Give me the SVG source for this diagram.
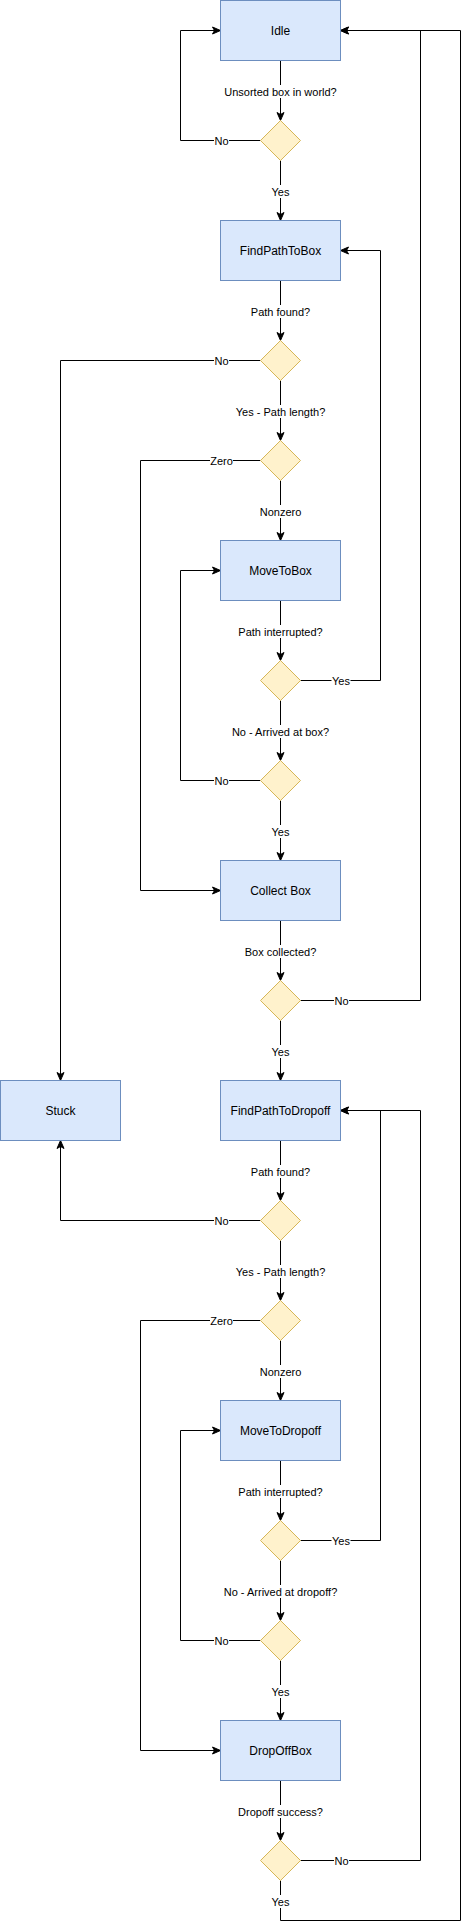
<svg xmlns="http://www.w3.org/2000/svg" width="469" height="1929" viewBox="0 0 469 1929">
<style>
.st{fill:#dae8fc;stroke:#6c8ebf;stroke-width:1}
.dc{fill:#fff2cc;stroke:#d6b656;stroke-width:1}
.nt{font-family:"Liberation Sans",Arial,Helvetica,sans-serif;font-size:12px;fill:#000;text-anchor:middle}
.e{fill:none;stroke:#000;stroke-width:1;marker-end:url(#arr)}
.lb{fill:#fff}
.lt{font-family:"Liberation Sans",Arial,Helvetica,sans-serif;font-size:11px;fill:#000;text-anchor:middle}
</style>
<defs>
<marker id="arr" markerUnits="userSpaceOnUse" markerWidth="9" markerHeight="9" refX="8" refY="4" orient="auto" overflow="visible">
<path d="M0,0.5 L8,4 L0,7.5 L2,4 Z" fill="#000" stroke="#000" stroke-width="1"/>
</marker>
</defs>
<rect width="469" height="1929" fill="#fff"/>
<g transform="translate(0.5,0.5)">
<g id="connectors">
<path class="e" d="M280,60 L280,120"/>
<path class="e" d="M260,140 L180,140 L180,30 L220,30"/>
<path class="e" d="M280,160 L280,220"/>
<path class="e" d="M280,280 L280,340"/>
<path class="e" d="M260,360 L60,360 L60,1080"/>
<path class="e" d="M280,380 L280,440"/>
<path class="e" d="M260,460 L140,460 L140,890 L220,890"/>
<path class="e" d="M280,480 L280,540"/>
<path class="e" d="M280,600 L280,660"/>
<path class="e" d="M300,680 L380,680 L380,250 L340,250"/>
<path class="e" d="M280,700 L280,760"/>
<path class="e" d="M260,780 L180,780 L180,570 L220,570"/>
<path class="e" d="M280,800 L280,860"/>
<path class="e" d="M280,920 L280,980"/>
<path class="e" d="M300,1000 L420,1000 L420,30 L340,30"/>
<path class="e" d="M280,1020 L280,1080"/>
<path class="e" d="M280,1140 L280,1200"/>
<path class="e" d="M260,1220 L60,1220 L60,1140"/>
<path class="e" d="M280,1240 L280,1300"/>
<path class="e" d="M260,1320 L140,1320 L140,1750 L220,1750"/>
<path class="e" d="M280,1340 L280,1400"/>
<path class="e" d="M280,1460 L280,1520"/>
<path class="e" d="M300,1540 L380,1540 L380,1110 L340,1110"/>
<path class="e" d="M280,1560 L280,1620"/>
<path class="e" d="M260,1640 L180,1640 L180,1430 L220,1430"/>
<path class="e" d="M280,1660 L280,1720"/>
<path class="e" d="M280,1780 L280,1840"/>
<path class="e" d="M300,1860 L420,1860 L420,1110 L340,1110"/>
<path class="e" d="M280,1880 L280,1920 L460,1920 L460,30 L340,30"/>
<g id="edge-labels">
<rect class="lb" x="223" y="84.5" width="114" height="13"/><text class="lt" x="280" y="95">Unsorted box in world?</text>
<rect class="lb" x="213.5" y="133.5" width="15" height="13"/><text class="lt" x="221" y="144">No</text>
<rect class="lb" x="270.5" y="184.5" width="19" height="13"/><text class="lt" x="280" y="195">Yes</text>
<rect class="lb" x="250" y="304.5" width="60" height="13"/><text class="lt" x="280" y="315">Path found?</text>
<rect class="lb" x="213.5" y="353.5" width="15" height="13"/><text class="lt" x="221" y="364">No</text>
<rect class="lb" x="234.5" y="404.5" width="91" height="13"/><text class="lt" x="280" y="415">Yes - Path length?</text>
<rect class="lb" x="209.5" y="453.5" width="23" height="13"/><text class="lt" x="221" y="464">Zero</text>
<rect class="lb" x="259" y="504.5" width="42" height="13"/><text class="lt" x="280" y="515">Nonzero</text>
<rect class="lb" x="238" y="624.5" width="84" height="13"/><text class="lt" x="280" y="635">Path interrupted?</text>
<rect class="lb" x="331" y="673.5" width="19" height="13"/><text class="lt" x="340.5" y="684">Yes</text>
<rect class="lb" x="231" y="724.5" width="98" height="13"/><text class="lt" x="280" y="735">No - Arrived at box?</text>
<rect class="lb" x="213.5" y="773.5" width="15" height="13"/><text class="lt" x="221" y="784">No</text>
<rect class="lb" x="270.5" y="824.5" width="19" height="13"/><text class="lt" x="280" y="835">Yes</text>
<rect class="lb" x="244" y="944.5" width="72" height="13"/><text class="lt" x="280" y="955">Box collected?</text>
<rect class="lb" x="333.5" y="993.5" width="15" height="13"/><text class="lt" x="341" y="1004">No</text>
<rect class="lb" x="270.5" y="1044.5" width="19" height="13"/><text class="lt" x="280" y="1055">Yes</text>
<rect class="lb" x="250" y="1164.5" width="60" height="13"/><text class="lt" x="280" y="1175">Path found?</text>
<rect class="lb" x="213.5" y="1213.5" width="15" height="13"/><text class="lt" x="221" y="1224">No</text>
<rect class="lb" x="234.5" y="1264.5" width="91" height="13"/><text class="lt" x="280" y="1275">Yes - Path length?</text>
<rect class="lb" x="209.5" y="1313.5" width="23" height="13"/><text class="lt" x="221" y="1324">Zero</text>
<rect class="lb" x="259" y="1364.5" width="42" height="13"/><text class="lt" x="280" y="1375">Nonzero</text>
<rect class="lb" x="238" y="1484.5" width="84" height="13"/><text class="lt" x="280" y="1495">Path interrupted?</text>
<rect class="lb" x="331" y="1533.5" width="19" height="13"/><text class="lt" x="340.5" y="1544">Yes</text>
<rect class="lb" x="222.5" y="1584.5" width="115" height="13"/><text class="lt" x="280" y="1595">No - Arrived at dropoff?</text>
<rect class="lb" x="213.5" y="1633.5" width="15" height="13"/><text class="lt" x="221" y="1644">No</text>
<rect class="lb" x="270.5" y="1684.5" width="19" height="13"/><text class="lt" x="280" y="1695">Yes</text>
<rect class="lb" x="237.5" y="1804.5" width="85" height="13"/><text class="lt" x="280" y="1815">Dropoff success?</text>
<rect class="lb" x="333.5" y="1853.5" width="15" height="13"/><text class="lt" x="341" y="1864">No</text>
<rect class="lb" x="270.5" y="1894.5" width="19" height="13"/><text class="lt" x="280" y="1905">Yes</text>
</g>
</g>
<g id="idle"><rect class="st" x="220" y="0" width="120" height="60"/><text class="nt" x="280" y="34">Idle</text></g>
<g id="d1"><path class="dc" d="M280,120 L300,140 L280,160 L260,140 Z"/></g>
<g id="findPathToBox"><rect class="st" x="220" y="220" width="120" height="60"/><text class="nt" x="280" y="254">FindPathToBox</text></g>
<g id="d2"><path class="dc" d="M280,340 L300,360 L280,380 L260,360 Z"/></g>
<g id="d3"><path class="dc" d="M280,440 L300,460 L280,480 L260,460 Z"/></g>
<g id="moveToBox"><rect class="st" x="220" y="540" width="120" height="60"/><text class="nt" x="280" y="574">MoveToBox</text></g>
<g id="d4"><path class="dc" d="M280,660 L300,680 L280,700 L260,680 Z"/></g>
<g id="d5"><path class="dc" d="M280,760 L300,780 L280,800 L260,780 Z"/></g>
<g id="collectBox"><rect class="st" x="220" y="860" width="120" height="60"/><text class="nt" x="280" y="894">Collect Box</text></g>
<g id="d6"><path class="dc" d="M280,980 L300,1000 L280,1020 L260,1000 Z"/></g>
<g id="stuck"><rect class="st" x="0" y="1080" width="120" height="60"/><text class="nt" x="60" y="1114">Stuck</text></g>
<g id="findPathToDropoff"><rect class="st" x="220" y="1080" width="120" height="60"/><text class="nt" x="280" y="1114">FindPathToDropoff</text></g>
<g id="d7"><path class="dc" d="M280,1200 L300,1220 L280,1240 L260,1220 Z"/></g>
<g id="d8"><path class="dc" d="M280,1300 L300,1320 L280,1340 L260,1320 Z"/></g>
<g id="moveToDropoff"><rect class="st" x="220" y="1400" width="120" height="60"/><text class="nt" x="280" y="1434">MoveToDropoff</text></g>
<g id="d9"><path class="dc" d="M280,1520 L300,1540 L280,1560 L260,1540 Z"/></g>
<g id="d10"><path class="dc" d="M280,1620 L300,1640 L280,1660 L260,1640 Z"/></g>
<g id="dropOffBox"><rect class="st" x="220" y="1720" width="120" height="60"/><text class="nt" x="280" y="1754">DropOffBox</text></g>
<g id="d11"><path class="dc" d="M280,1840 L300,1860 L280,1880 L260,1860 Z"/></g>
</g>
</svg>
